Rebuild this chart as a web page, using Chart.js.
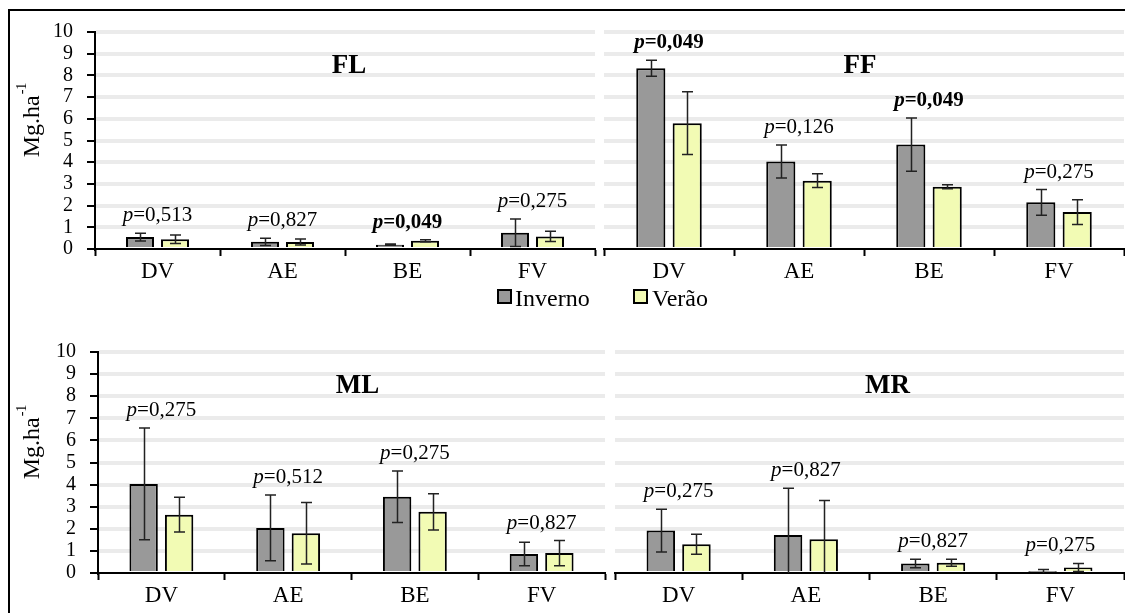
<!DOCTYPE html>
<html>
<head>
<meta charset="utf-8">
<script src="https://cdn.jsdelivr.net/npm/chart.js@4.4.1/dist/chart.umd.min.js"></script>
<style>
  body { margin: 0; background: #fff; }
  #wrap { position: relative; width: 1125px; height: 613px; overflow: hidden; background: #fff; }
  #frame { position: absolute; left: 8px; top: 9px; width: 1140px; height: 640px; border: 2px solid #000; }
  canvas { position: absolute; }
  .lbox { position: absolute; width: 11px; height: 11px; border: 2px solid #000; }
  .ltxt { position: absolute; font: 24px 'Liberation Serif', serif; color: #000; line-height: 24px; }
</style>
</head>
<body>
<div id="wrap">
  <div id="frame"></div>
  <canvas id="flChart" width="600" height="290" style="left:0;top:0"></canvas>
  <canvas id="ffChart" width="525" height="290" style="left:600px;top:0"></canvas>
  <canvas id="mlChart" width="610" height="293" style="left:0;top:320px"></canvas>
  <canvas id="mrChart" width="515" height="293" style="left:610px;top:320px"></canvas>
  <div class="lbox" style="left:497px;top:289px;background:#999999"></div>
  <div class="ltxt" style="left:515px;top:286px">Inverno</div>
  <div class="lbox" style="left:633px;top:289px;background:#f2fbb4"></div>
  <div class="ltxt" style="left:652px;top:286px">Verão</div>
</div>
<script>

const categories = ["DV", "AE", "BE", "FV"];

/* FL */
const flInverno = [0.55, 0.33, 0.20, 0.75];
const flInvernoErr = [0.18, 0.17, 0.03, 0.63];
const flVerao = [0.45, 0.32, 0.38, 0.58];
const flVeraoErr = [0.20, 0.14, 0.05, 0.24];
const flP = ["0,513", "0,827", "0,049", "0,275"];
const flBold = [false, false, true, false];

/* FF */
const ffInverno = [8.33, 4.03, 4.81, 2.15];
const ffInvernoErr = [0.37, 0.76, 1.23, 0.59];
const ffVerao = [5.80, 3.15, 2.87, 1.70];
const ffVeraoErr = [1.45, 0.32, 0.09, 0.57];
const ffP = ["0,049", "0,126", "0,049", "0,275"];
const ffBold = [true, false, true, false];

/* ML */
const mlInverno = [4.03, 2.04, 3.45, 0.86];
const mlInvernoErr = [2.53, 1.49, 1.16, 0.53];
const mlVerao = [2.64, 1.80, 2.77, 0.90];
const mlVeraoErr = [0.79, 1.39, 0.82, 0.57];
const mlP = ["0,275", "0,512", "0,275", "0,827"];
const mlBold = [false, false, false, false];

/* MR */
const mrInverno = [1.92, 1.72, 0.43, 0.06];
const mrInvernoErr = [0.97, 2.12, 0.19, 0.10];
const mrVerao = [1.30, 1.53, 0.46, 0.25];
const mrVeraoErr = [0.45, 1.75, 0.16, 0.18];
const mrP = ["0,275", "0,827", "0,827", "0,275"];
const mrBold = [false, false, false, false];

const SERIF = "'Liberation Serif', 'Times New Roman', serif";

/* ERROR BARS, P LABELS, TITLES */
const extrasPlugin = {

  id: "extras",

  afterDatasetsDraw(chart, args, opts) {

    const ctx = chart.ctx;
    const y = chart.scales.y;
    const x = chart.scales.x;
    const area = chart.chartArea;

    ctx.save();

    /* error bars */
    ctx.strokeStyle = "#222";
    ctx.lineWidth = 1.5;

    const tops = categories.map(() => 0);

    chart.data.datasets.forEach((ds, i) => {

      const meta = chart.getDatasetMeta(i);

      meta.data.forEach((bar, j) => {

        const v = ds.data[j];
        const e = ds.errors[j];
        const yt = y.getPixelForValue(v + e);
        const yb = y.getPixelForValue(Math.max(0, v - e));
        const cx = Math.round(bar.x) + 0.5;

        tops[j] = Math.max(tops[j], v + e);

        ctx.beginPath();
        ctx.moveTo(cx, yt);
        ctx.lineTo(cx, yb);
        ctx.moveTo(cx - 5.5, yt);
        ctx.lineTo(cx + 5.5, yt);
        if (v - e > 0) {
          ctx.moveTo(cx - 5.5, yb);
          ctx.lineTo(cx + 5.5, yb);
        }
        ctx.stroke();
      });
    });

    /* p labels */
    ctx.fillStyle = "#000";
    ctx.textBaseline = "alphabetic";
    ctx.textAlign = "left";

    opts.pvals.forEach((txt, j) => {

      const bold = opts.bold[j] ? "bold " : "";
      const f1 = bold + "italic 21px " + SERIF;
      const f2 = bold + "21px " + SERIF;
      const rest = "=" + txt;

      ctx.font = f1;
      const w1 = ctx.measureText("p").width;
      ctx.font = f2;
      const w2 = ctx.measureText(rest).width;

      const cx = x.getPixelForValue(j);
      const by = y.getPixelForValue(tops[j]) - 12;
      const x0 = cx - (w1 + w2) / 2;

      ctx.font = f1;
      ctx.fillText("p", x0, by);
      ctx.font = f2;
      ctx.fillText(rest, x0 + w1, by);
    });

    /* panel title */
    ctx.font = "bold 27px " + SERIF;
    ctx.textAlign = "center";
    ctx.textBaseline = "middle";
    ctx.fillText(
      opts.title,
      (area.left + area.right) / 2 + opts.titleShift,
      area.top + 34
    );

    /* y title with superscript */
    if (opts.yTitle) {

      const cy = (area.top + area.bottom) / 2 - 20;

      ctx.translate(opts.yTitleX, cy);
      ctx.rotate(-Math.PI / 2);

      ctx.font = "24px " + SERIF;
      const wMain = ctx.measureText("Mg.ha").width;
      ctx.font = "14px " + SERIF;
      const wSup = ctx.measureText("-1").width;

      const start = -(wMain + wSup) / 2;

      ctx.textAlign = "left";
      ctx.textBaseline = "middle";
      ctx.font = "24px " + SERIF;
      ctx.fillText("Mg.ha", start, 0);
      ctx.font = "14px " + SERIF;
      ctx.fillText("-1", start + wMain + 1, -11);
    }

    ctx.restore();
  }
};

function makePanel(id, inv, invErr, ver, verErr, pvals, bold, cfg) {

  return new Chart(
    document.getElementById(id),
    {

      type: "bar",

      data: {

        labels: categories,

        datasets: [
          {
            label: "Inverno",
            data: inv,
            errors: invErr,
            backgroundColor: "#999999",
            borderColor: "#000",
            borderWidth: 2,
            categoryPercentage: 0.56,
            barPercentage: 0.8
          },
          {
            label: "Verão",
            data: ver,
            errors: verErr,
            backgroundColor: "#f2fbb4",
            borderColor: "#000",
            borderWidth: 2,
            categoryPercentage: 0.56,
            barPercentage: 0.8
          }
        ]
      },

      options: {

        responsive: false,

        animation: false,

        devicePixelRatio: 1,

        layout: {
          padding: cfg.padding
        },

        plugins: {

          legend: { display: false },

          tooltip: { enabled: false },

          extras: {
            pvals: pvals,
            bold: bold,
            title: cfg.title,
            titleShift: cfg.titleShift,
            yTitle: cfg.showY,
            yTitleX: 33
          }
        },

        scales: {

          x: {

            afterFit: s => { s.height = cfg.xHeight; },

            ticks: {
              color: "#000",
              font: { family: SERIF, size: 23 },
              padding: 2
            },

            grid: {
              offset: true,
              drawOnChartArea: false,
              drawTicks: true,
              tickLength: 7,
              tickColor: "#000",
              tickWidth: 2
            },

            border: {
              color: "#000",
              width: 2
            }
          },

          y: {

            min: 0,

            max: 10,

            afterFit: s => { s.width = cfg.yWidth; },

            ticks: {
              display: cfg.showY,
              stepSize: 1,
              autoSkip: false,
              color: "#000",
              font: { family: SERIF, size: 20 },
              padding: 14
            },

            grid: {
              color: c =>
                c.tick && c.tick.value === 0
                  ? "rgba(0,0,0,0)"
                  : "#ebebeb",
              lineWidth: 4,
              drawTicks: cfg.showY,
              tickLength: 8,
              tickColor: "#000",
              tickWidth: 2
            },

            border: {
              display: cfg.showY,
              color: "#000",
              width: 2
            }
          }
        }
      },

      plugins: [extrasPlugin]
    }
  );
}

makePanel("flChart", flInverno, flInvernoErr, flVerao, flVeraoErr, flP, flBold, {
  title: "FL", titleShift: 4, showY: true, yWidth: 95, xHeight: 41,
  padding: { top: 32, left: 0, right: 5, bottom: 0 }
});

makePanel("ffChart", ffInverno, ffInvernoErr, ffVerao, ffVeraoErr, ffP, ffBold, {
  title: "FF", titleShift: -4, showY: false, yWidth: 0, xHeight: 41,
  padding: { top: 32, left: 4, right: 1, bottom: 0 }
});

makePanel("mlChart", mlInverno, mlInvernoErr, mlVerao, mlVeraoErr, mlP, mlBold, {
  title: "ML", titleShift: 6, showY: true, yWidth: 98, xHeight: 40,
  padding: { top: 32, left: 0, right: 5, bottom: 0 }
});

makePanel("mrChart", mrInverno, mrInvernoErr, mrVerao, mrVeraoErr, mrP, mrBold, {
  title: "MR", titleShift: 18, showY: false, yWidth: 0, xHeight: 40,
  padding: { top: 32, left: 5, right: 1, bottom: 0 }
});

</script>
</body>
</html>
